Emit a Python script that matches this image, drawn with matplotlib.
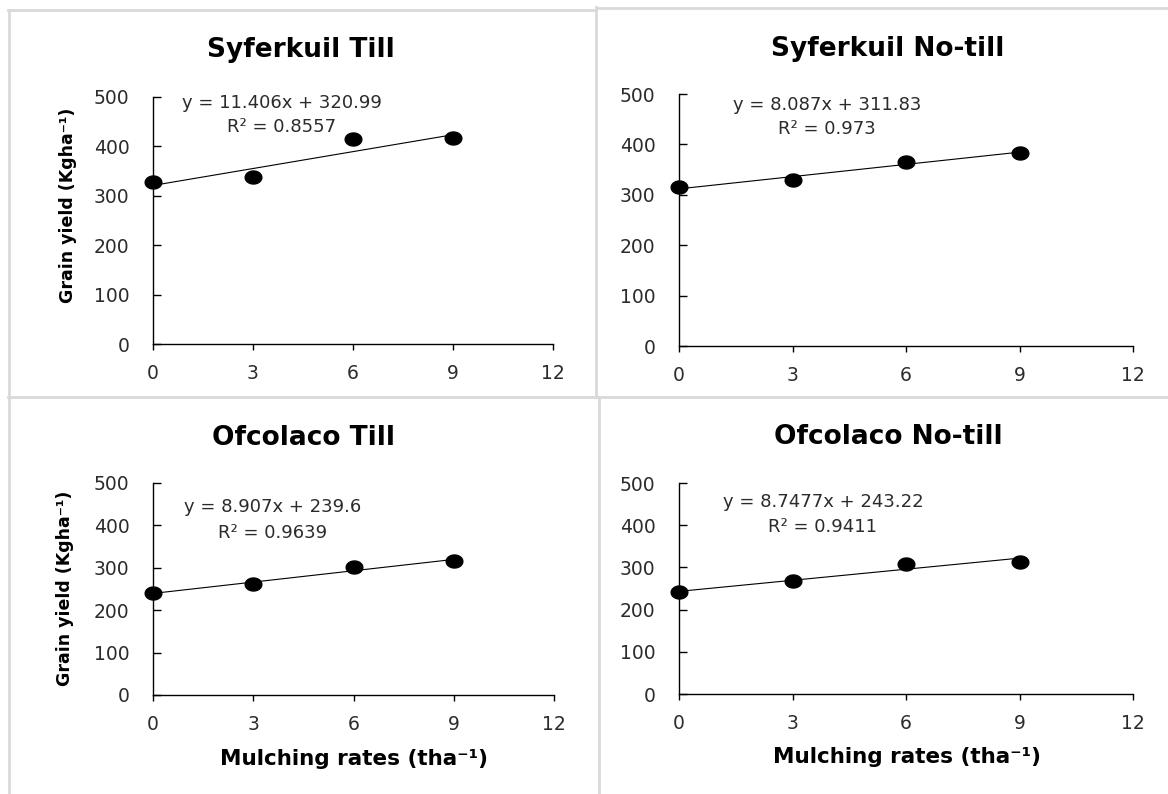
import numpy as np
import matplotlib
matplotlib.use("Agg")
import matplotlib.pyplot as plt
from matplotlib.path import Path
from matplotlib.lines import Line2D

# ---------------- data ----------------
mulch_rates = [0, 3, 6, 9]
titles = ["Syferkuil Till", "Syferkuil No-till", "Ofcolaco Till", "Ofcolaco No-till"]
syferkuil_till = [328, 338, 415, 418]
syferkuil_notill = [316, 329, 365, 383]
ofcolaco_till = [240, 261, 302, 315]
ofcolaco_notill = [241, 268, 309, 313]
slopes = [11.406, 8.087, 8.907, 8.7477]
intercepts = [320.99, 311.83, 239.6, 243.22]
equations = ["y = 11.406x + 320.99", "y = 8.087x + 311.83",
             "y = 8.907x + 239.6", "y = 8.7477x + 243.22"]
r2_labels = ["R² = 0.8557", "R² = 0.973", "R² = 0.9639", "R² = 0.9411"]
x_ticks = [0, 3, 6, 9, 12]
y_ticks = [0, 100, 200, 300, 400, 500]
ylabel = "Grain yield (Kgha⁻¹)"
xlabel = "Mulching rates (tha⁻¹)"

series = [syferkuil_till, syferkuil_notill, ofcolaco_till, ofcolaco_notill]

# ---------------- layout ----------------
W, H = 1168, 794
fig = plt.figure(figsize=(W / 100, H / 100), dpi=100)
plt.rcParams['font.family'] = ['DejaVu Sans']

def fx(px):
    return px / W

def fy(py):
    return 1 - py / H

# axes boxes in pixels: (left, right, top, bottom)
boxes = [(153, 553, 97, 344), (679, 1133, 94, 346),
         (153, 554, 483, 695), (679, 1133, 483, 694)]
title_pos = [(301, 57), (888, 56), (303, 445), (888, 444)]
eq_pos = [(282, 103, 127), (827, 105, 129), (273, 507, 533), (823, 502, 527)]

# elliptical marker (reference is slightly stretched horizontally)
t = np.linspace(0, 2 * np.pi, 64)
ell = Path(np.column_stack([np.cos(t), 0.78 * np.sin(t)]), closed=True)

tick_color = '#2b2b2b'
for i, (l, r, tp, b) in enumerate(boxes):
    ax = fig.add_axes([fx(l), fy(b), fx(r - l), (b - tp) / H])
    ax.set_xlim(0, 12)
    ax.set_ylim(0, 500)
    xs = np.array([mulch_rates[0], mulch_rates[-1]])
    ax.plot(xs, slopes[i] * xs + intercepts[i], color='black', lw=0.8,
            zorder=2, clip_on=False)
    ax.plot(mulch_rates, series[i], linestyle='none', marker=ell,
            markersize=12, color='black', zorder=3, clip_on=False)
    for s in ['top', 'right']:
        ax.spines[s].set_visible(False)
    for s in ['left', 'bottom']:
        ax.spines[s].set_linewidth(1.0)
        ax.spines[s].set_color('black')
    ax.set_xticks(x_ticks)
    ax.set_yticks(y_ticks)
    ax.tick_params(axis='y', direction='in', length=6, width=1.0, pad=17,
                   labelsize=13.5, labelcolor=tick_color)
    ax.tick_params(axis='x', direction='out', length=4.5, width=1.0, pad=10,
                   labelsize=13.5, labelcolor=tick_color)
    ax.patch.set_alpha(0)

    tx, ty = title_pos[i]
    fig.text(fx(tx), fy(ty), titles[i], ha='center', va='baseline',
             fontsize=19, fontweight='bold', color='black')
    ex, ey1, ey2 = eq_pos[i]
    fig.text(fx(ex), fy(ey1), equations[i], ha='center', va='center',
             fontsize=13, color=tick_color)
    fig.text(fx(ex), fy(ey2), r2_labels[i], ha='center', va='center',
             fontsize=13, color=tick_color)

# axis labels
fig.text(fx(68), fy(205), ylabel, rotation=90, ha='center', va='center',
         fontsize=12.5, fontweight='bold')
fig.text(fx(65), fy(588), ylabel, rotation=90, ha='center', va='center',
         fontsize=12.5, fontweight='bold')
fig.text(fx(354), fy(765), xlabel, ha='center', va='baseline',
         fontsize=15.5, fontweight='bold')
fig.text(fx(907), fy(763), xlabel, ha='center', va='baseline',
         fontsize=15.5, fontweight='bold')

# panel borders (light gray)
gray = '#d9d9d9'
lw = 2.0
segs = [
    ((8.5, 8.5), (10, 794)),        # far left border
    ((8, 596), (10, 10)),           # top of left-top panel
    ((596, 1168), (7.5, 7.5)),      # top of right-top panel
    ((596, 596), (7, 397)),         # vertical divider (upper)
    ((598.5, 598.5), (397, 794)),   # vertical divider (lower)
    ((8, 1168), (396.5, 396.5)),    # horizontal divider
]
for (xa, xb), (ya, yb) in segs:
    fig.add_artist(Line2D([fx(xa), fx(xb)], [fy(ya), fy(yb)],
                          transform=fig.transFigure, color=gray, lw=lw))

fig.savefig("out.png", dpi=100, facecolor='white')
